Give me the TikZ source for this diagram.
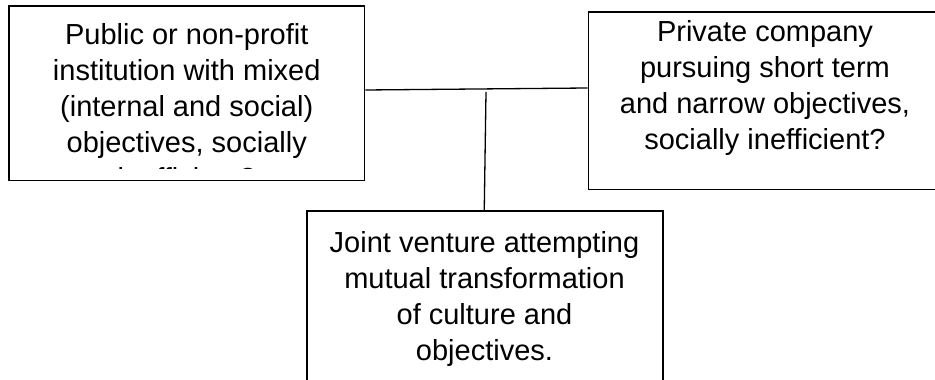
\documentclass[tikz,border=0pt]{standalone}
\usepackage{fontspec}
\setmainfont{Liberation Sans}
\begin{document}
\begin{tikzpicture}[x=1pt,y=1pt,
  box/.style={draw, line width=1.8pt, inner sep=0pt},
  txt/.style={font=\fontsize{29}{35.7}\selectfont, align=center, inner sep=0pt},
  link/.style={line width=1.3pt}]
\useasboundingbox (0,0) rectangle (935,380);
\clip (0,0) rectangle (935,380);
\fill[white] (0,0) rectangle (935,380);
% boxes
\node[box, minimum width=355.5pt, minimum height=174.5pt] (L) at (186.75,286.75) {};
\node[box, minimum width=356.5pt, minimum height=177.6pt] (R) at (766.75,279.2) {};
\node[box, minimum width=355.7pt, minimum height=189pt] (B) at (485.15,74.5) {};
% texts (anchor base = baseline of the last line)
\begin{scope}
\clip ([shift={(0.9pt,0.9pt)}]L.west |- 0,210.8) rectangle ([shift={(-0.9pt,-0.9pt)}]L.north east);
\node[txt, font=\fontsize{29}{36}\selectfont, anchor=base] (Lt) at (186.75,191) {Public or non-profit\\institution with mixed\\(internal and social)\\objectives, socially\\inefficient?};
\end{scope}
\node[txt, anchor=base] (Rt) at (765,230.9) {Private company\\pursuing short term\\and narrow objectives,\\socially inefficient?};
\node[txt, anchor=base] (Bt) at (484.5,19.9) {Joint venture attempting\\mutual transformation\\of culture and\\objectives.};
% connectors
\coordinate (j) at (486,288);
\draw[link] ([yshift=3.25pt]L.east) -- ([yshift=12.8pt]R.west);
\draw[link] (j) -- ([xshift=-0.9pt]B.north);
\end{tikzpicture}
\end{document}
